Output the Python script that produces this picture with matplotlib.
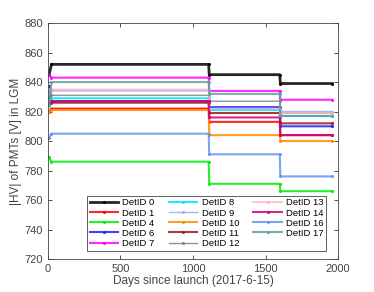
import matplotlib.pyplot as plt
import numpy as np

plt.rcParams['font.family'] = ['Liberation Sans', 'DejaVu Sans']

# step points: launch, settled, before/after 1st change, before/after 2nd change, end
days = [8, 25, 1108, 1112, 1598, 1602, 1960]

det_ids = [0, 1, 4, 6, 7, 8, 9, 10, 11, 12, 13, 14, 16, 17]
hv = {
    0:  [845, 852, 852, 845, 845, 839, 839],
    1:  [820, 822, 822, 813, 813, 804, 804],
    4:  [789, 786, 786, 771, 771, 766, 766],
    6:  [837, 827, 827, 823, 823, 810, 810],
    7:  [845, 843, 843, 834, 834, 828, 828],
    8:  [824, 829, 829, 821, 821, 817, 817],
    9:  [834, 834, 834, 822, 822, 820, 820],
    10: [820, 821, 821, 804, 804, 800, 800],
    11: [825, 826, 826, 819, 819, 812, 812],
    12: [830, 831, 831, 827, 827, 819, 819],
    13: [835, 835, 835, 822, 822, 819, 819],
    14: [825, 827, 827, 816, 816, 804, 804],
    16: [802, 805, 805, 791, 791, 776, 776],
    17: [825, 840, 840, 832, 832, 817, 817],
}
colors = {
    0: 'black', 1: '#ff0000', 4: '#00ee00', 6: '#2020ff', 7: '#ff00ff',
    8: '#00e5ff', 9: '#a0a0ff', 10: '#ff8c00', 11: '#a01818', 12: '#808080',
    13: '#ffb0b8', 14: '#d0007a', 16: '#6495ed', 17: '#5fa0a0',
}
widths = {0: 2.0, 12: 1.0, 9: 1.0, 13: 1.2}

fig = plt.figure(figsize=(3.74, 2.92), dpi=100)
ax = fig.add_axes([0.128, 0.113, 0.776, 0.808])

for d in det_ids:
    ax.plot(days, hv[d], color=colors[d], lw=widths.get(d, 1.5), alpha=0.85,
            marker='.', markersize=2.5, label='DetID %d' % d)

ax.set_xlim(0, 2000)
ax.set_ylim(720, 880)
ax.set_xticks([0, 500, 1000, 1500, 2000])
ax.set_yticks(np.arange(720, 881, 20))
ax.tick_params(direction='in', top=True, right=True, labelsize=8, length=3,
               width=0.6, colors='#333333', labelcolor='#444444')
for s in ax.spines.values():
    s.set_linewidth(0.6)
    s.set_color('#444444')
ax.set_xlabel('Days since launch (2017-6-15)', fontsize=8.5, labelpad=1, color='#444444')
ax.set_ylabel('|HV| of PMTs [V] in LGM', fontsize=8.5, labelpad=2, color='#444444')

leg = ax.legend(ncol=3, fontsize=6.8, loc='lower left', bbox_to_anchor=(0.135, 0.035),
                handlelength=3.0, handletextpad=0.45, columnspacing=1.5,
                labelspacing=0.12, borderpad=0.3, fancybox=False, framealpha=1,
                borderaxespad=0)
leg.get_frame().set_edgecolor('#444444')
leg.get_frame().set_linewidth(0.6)

fig.savefig('out.png', dpi=100)
